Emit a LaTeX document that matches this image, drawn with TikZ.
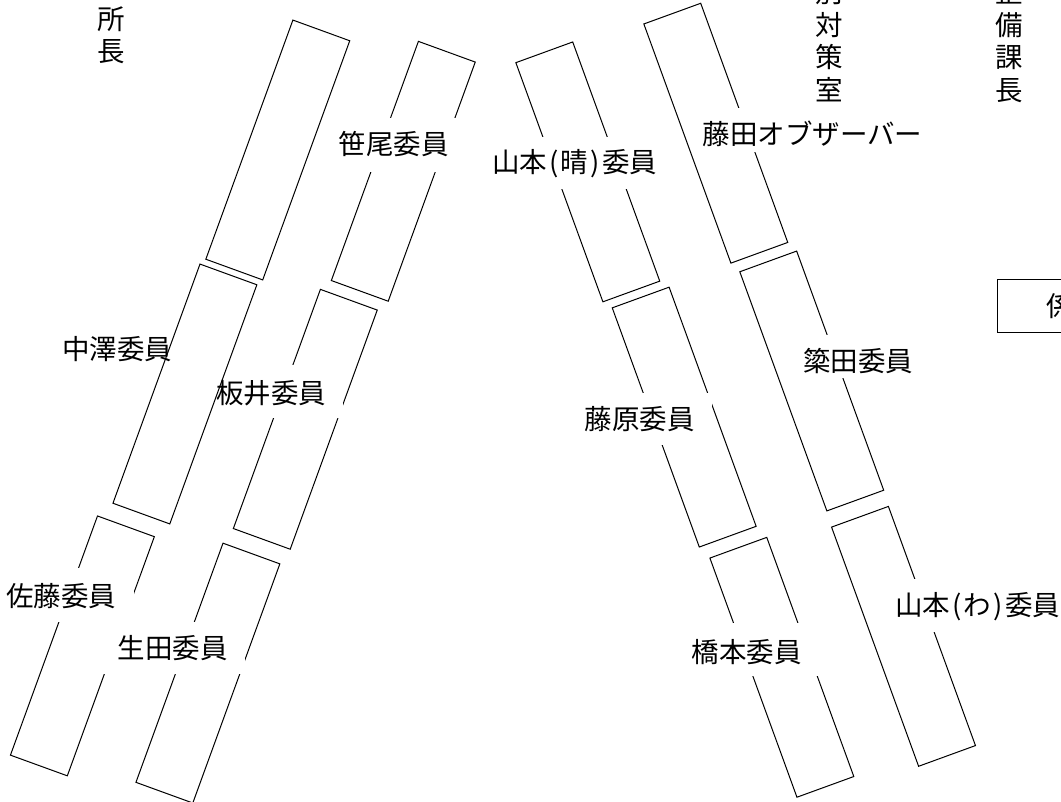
\documentclass[tikz,border=0pt]{standalone}
\usepackage{fontspec}
\newfontfamily\jpfont{Noto Sans CJK JP}
\newcommand{\hpar}[1]{\makebox[0.5em][c]{#1}}
\begin{document}
\begin{tikzpicture}[x=1pt,y=-1pt,
  seat/.style={draw, line width=1pt, minimum width=60.5pt, minimum height=254.5pt, inner sep=0pt, outer sep=0pt},
  lseat/.style={seat, rotate=-20},
  rseat/.style={seat, rotate=20},
  wbox/.style={fill=white, inner sep=0pt, outer sep=0pt},
  lbl/.style={font=\jpfont\fontsize{27.5}{33}\selectfont, inner sep=0pt},
  vlbl/.style={font=\jpfont\fontsize{27.5}{32.7}\selectfont, align=center, inner sep=0pt}]
\useasboundingbox (0,0) rectangle (1061,802);
\clip (0,0) rectangle (1061,802);
% seats (left block)
\node[lseat] (sB) at (403.3,171.3) {};
\node[lseat] (sD) at (305.3,419.3) {};
\node[lseat] (sE) at (82.4,645.9) {};
\node[lseat] (sF) at (207.9,673.1) {};
% seats (right block)
\node[rseat] (sG) at (587.8,171.9) {};
\node[rseat] (sH) at (715.8,133.2) {};
\node[rseat] (sI) at (684.2,417.1) {};
\node[rseat] (sJ) at (811.75,381) {};
\node[rseat] (sK) at (781.85,667.3) {};
\node[rseat] (sL) at (903.5,636.35) {};
% white label boxes
\node[wbox, minimum width=145pt, minimum height=53.4pt] (wSasao) at (393.8,145) {};
\node[wbox, minimum width=200pt, minimum height=52.6pt] (wYamaH) at (574.7,163) {};
\node[wbox, minimum width=247pt, minimum height=44pt] (wFujita) at (814.5,130) {};
\node[wbox, minimum width=144pt, minimum height=53pt] (wItai) at (271,391.5) {};
\node[wbox, minimum width=145pt, minimum height=52.3pt] (wFujiwara) at (639.5,418.9) {};
\node[wbox, minimum width=145pt, minimum height=43.3pt] (wYanada) at (858.3,356.7) {};
\node[wbox, minimum width=145pt, minimum height=53.7pt] (wSato) at (61.2,594.9) {};
\node[wbox, minimum width=145pt, minimum height=52.3pt] (wIkuta) at (172.5,647.9) {};
\node[wbox, minimum width=145pt, minimum height=52.7pt] (wHashimoto) at (746.7,649.7) {};
\node[wbox, minimum width=200pt, minimum height=53pt] (wYamaW) at (977.5,605.8) {};
% labels
\node[lbl] (tSasao) at (393.8,144) {笹尾委員};
\node[lbl] (tYamaH) at (574.7,163.3) {山本\hpar{(}晴\hpar{)}委員};
\node[lbl] (tFujita) at (812.5,134.2) {藤田オブザーバー};
\node[lbl] (tItai) at (271.2,393.3) {板井委員};
\node[lbl] (tFujiwara) at (639.5,419.2) {藤原委員};
\node[lbl] (tYanada) at (858.3,360.8) {簗田委員};
\node[lbl] (tSato) at (61.2,595.8) {佐藤委員};
\node[lbl] (tIkuta) at (172.5,648.3) {生田委員};
\node[lbl] (tHashimoto) at (746.7,651.7) {橋本委員};
\node[lbl] (tYamaW) at (977.5,606.7) {山本\hpar{(}わ\hpar{)}委員};
% seats drawn on top
\node[lseat] (sA) at (277.8,150) {};
\node[lseat] (sC) at (184.9,394) {};
\node[lbl] (tNakazawa) at (117,348.7) {中澤委員};
% vertical titles
\node[vlbl] (vShocho) at (110.8,35.35) {所\\長};
\node[vlbl] (vTaisaku) at (829,41) {別\\対\\策\\室};
\node[vlbl] (vSeibi) at (1009,41) {整\\備\\課\\長};
% right box
\node[draw, line width=1pt, anchor=west, outer sep=0pt, minimum height=53.3pt, inner xsep=49.5pt, inner ysep=0pt, font=\jpfont\fontsize{27.5}{33}\selectfont] (boxM) at (997.3,305.7) {係長};
\end{tikzpicture}
\end{document}
